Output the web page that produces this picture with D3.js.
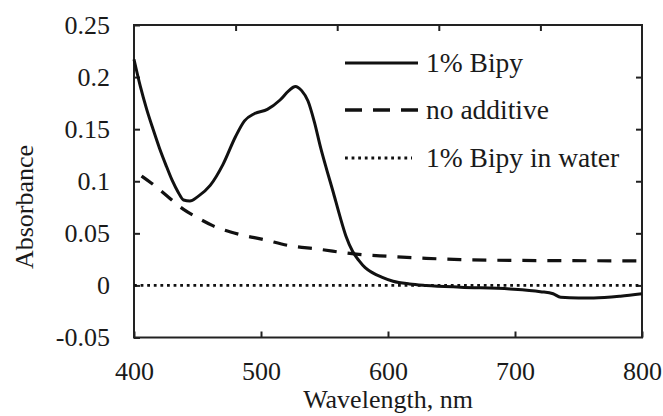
<!DOCTYPE html>
<html>
<head>
<meta charset="utf-8">
<script src="https://cdn.jsdelivr.net/npm/d3@7"></script>
<style>
  html, body { margin: 0; padding: 0; background: #fff; }
  svg { display: block; }
</style>
</head>
<body>
<svg id="chart" width="663" height="416"></svg>
<script>
// Absorbance spectra
const bipyWl  = [400, 405, 410, 415, 420, 425, 430, 435, 439, 444, 450, 460, 470, 480, 487, 495, 505, 515, 522, 527, 532, 537, 542, 547, 552, 557, 562, 567, 572, 577, 582, 588, 595, 604, 617, 630, 657, 696, 720, 730, 736, 750, 762, 783, 800];
const bipyAbs = [0.217, 0.191, 0.169, 0.150, 0.132, 0.116, 0.101, 0.089, 0.082, 0.081, 0.085, 0.096, 0.116, 0.143, 0.158, 0.165, 0.169, 0.178, 0.187, 0.191, 0.187, 0.177, 0.157, 0.132, 0.110, 0.089, 0.067, 0.047, 0.033, 0.024, 0.017, 0.012, 0.008, 0.004, 0.0014, 0.000, -0.0017, -0.0034, -0.006, -0.008, -0.0113, -0.012, -0.012, -0.0104, -0.008];

const noAddWl  = [406, 415, 423, 439, 450, 462, 483, 502, 523, 544, 575, 600, 630, 657, 700, 736, 800];
const noAddAbs = [0.105, 0.097, 0.089, 0.073, 0.065, 0.0574, 0.049, 0.044, 0.038, 0.035, 0.030, 0.028, 0.026, 0.0248, 0.024, 0.0238, 0.0235];

const waterWl  = [400, 800];
const waterAbs = [0, 0];

const xTicks = [400, 500, 600, 700, 800];
const yTicks = [-0.05, 0, 0.05, 0.1, 0.15, 0.2, 0.25];
const topTicks = [480, 560, 640, 720];
const yTickLabels = ["-0.05", "0", "0.05", "0.1", "0.15", "0.2", "0.25"];

const legendLabels = ["1% Bipy", "no additive", "1% Bipy in water"];

const FONT = '"Liberation Serif", "Times New Roman", "DejaVu Serif", serif';
const svg = d3.select("#chart");
const m = { left: 134, right: 642, top: 25, bottom: 337.5 };

const x = d3.scaleLinear().domain([400, 800]).range([m.left, m.right]);
const y = d3.scaleLinear().domain([-0.05, 0.25]).range([m.bottom, m.top]);

const fontSize = 26;
const legendFontSize = 27.5;
const axisColor = "#222";

// Plot frame
svg.append("rect")
  .attr("x", m.left).attr("y", m.top)
  .attr("width", m.right - m.left).attr("height", m.bottom - m.top)
  .attr("fill", "none").attr("stroke", axisColor).attr("stroke-width", 2);

// Inward ticks on all four sides
const tickLen = 6;
const bottomAxis = d3.axisBottom(x).tickValues(xTicks).tickSizeInner(-tickLen).tickSizeOuter(0).tickPadding(24).tickFormat(d3.format("d"));
const gB = svg.append("g").attr("transform", `translate(0,${m.bottom})`).call(bottomAxis);

const leftAxis = d3.axisLeft(y).tickValues(yTicks).tickSizeInner(-tickLen).tickSizeOuter(0).tickPadding(24)
  .tickFormat((d, i) => yTickLabels[i]);
const gL = svg.append("g").attr("transform", `translate(${m.left},0)`).call(leftAxis);

const topAxis = d3.axisTop(x).tickValues(topTicks).tickSizeInner(-tickLen).tickSizeOuter(0).tickFormat("");
const gT = svg.append("g").attr("transform", `translate(0,${m.top})`).call(topAxis);

const rightAxis = d3.axisRight(y).tickValues(yTicks.slice(1, -1)).tickSizeInner(-tickLen).tickSizeOuter(0).tickFormat("");
const gR = svg.append("g").attr("transform", `translate(${m.right},0)`).call(rightAxis);

[gB, gL, gT, gR].forEach(g => {
  g.attr("font-family", FONT).attr("font-size", fontSize);
  g.select(".domain").remove();
  g.selectAll(".tick line").attr("stroke", axisColor).attr("stroke-width", 2);
  g.selectAll(".tick text").attr("fill", "#1a1a1a");
});

// Axis titles
svg.append("text")
  .attr("x", (m.left + m.right) / 2).attr("y", 408)
  .attr("text-anchor", "middle")
  .attr("font-family", FONT).attr("font-size", fontSize).attr("fill", "#1a1a1a")
  .text("Wavelength, nm");

svg.append("text")
  .attr("transform", "translate(33,207) rotate(-90)")
  .attr("text-anchor", "middle")
  .attr("font-family", FONT).attr("font-size", fontSize).attr("fill", "#1a1a1a")
  .text("Absorbance");

// Spectra
const line = d3.line().x(d => x(d[0])).y(d => y(d[1])).curve(d3.curveMonotoneX);
const toPts = (wl, ab) => wl.map((w, i) => [w, ab[i]]);

const plot = svg.append("g");
plot.append("path")
  .datum(toPts(waterWl, waterAbs))
  .attr("d", line).attr("fill", "none")
  .attr("stroke", "#111").attr("stroke-width", 2.8)
  .attr("stroke-dasharray", "2.8,3.8");

plot.append("path")
  .datum(toPts(noAddWl, noAddAbs))
  .attr("d", line).attr("fill", "none")
  .attr("stroke", "#111").attr("stroke-width", 3.2)
  .attr("stroke-dasharray", "14,11");

plot.append("path")
  .datum(toPts(bipyWl, bipyAbs))
  .attr("d", line).attr("fill", "none")
  .attr("stroke", "#111").attr("stroke-width", 3)
  .attr("stroke-linejoin", "round");

// Legend
const legend = svg.append("g");
const legendRows = [
  { y: 63, dash: null, width: 3, label: legendLabels[0], x2: 418 },
  { y: 110, dash: "17,11", width: 3.4, label: legendLabels[1], x2: 418 },
  { y: 158, dash: "2.8,3.8", width: 2.8, label: legendLabels[2], x2: 412 }
];
legendRows.forEach(r => {
  legend.append("line")
    .attr("x1", 345).attr("x2", r.x2).attr("y1", r.y).attr("y2", r.y)
    .attr("stroke", "#111").attr("stroke-width", r.width)
    .attr("stroke-dasharray", r.dash);
  legend.append("text")
    .attr("x", 426).attr("y", r.y + 9)
    .attr("font-family", FONT).attr("font-size", legendFontSize).attr("fill", "#1a1a1a")
    .text(r.label);
});
</script>
</body>
</html>
